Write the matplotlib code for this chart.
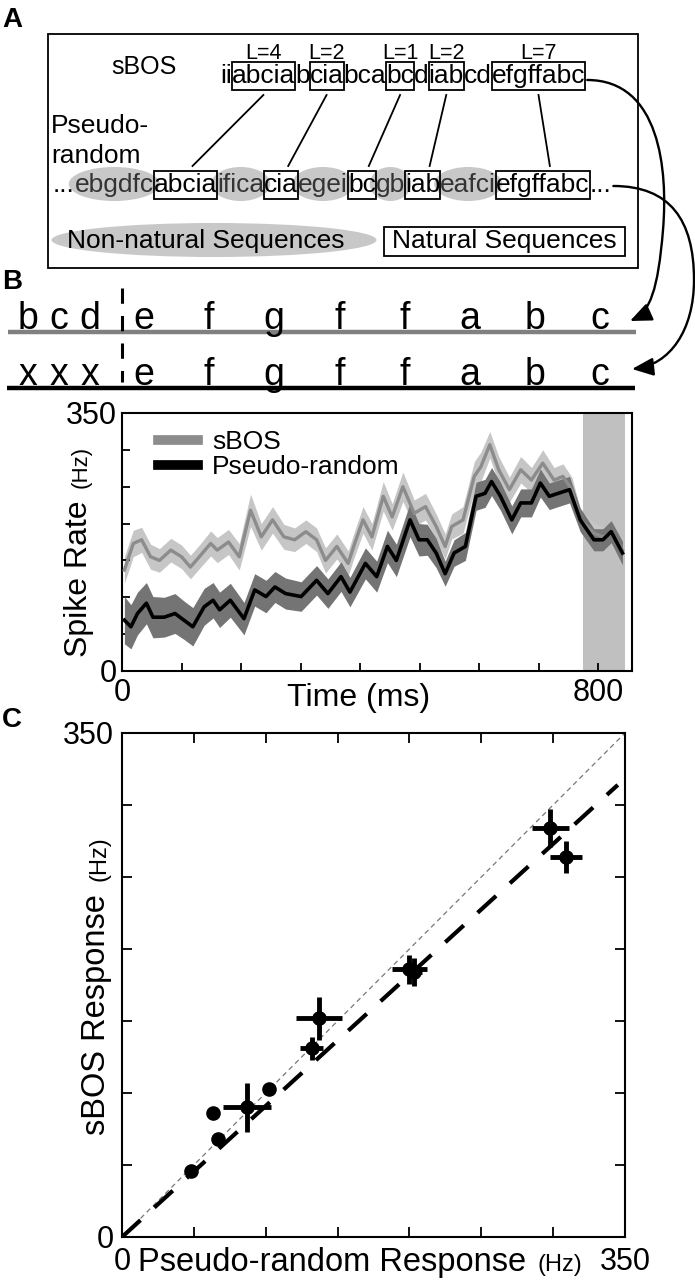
import matplotlib
matplotlib.use('Agg')
import matplotlib.pyplot as plt
import numpy as np
from matplotlib.patches import Rectangle, Ellipse, FancyArrowPatch
from matplotlib.path import Path

plt.rcParams['font.family'] = ['Liberation Sans', 'DejaVu Sans']

# ---------------- data ----------------
# panel A: song strings split in chunks (text, kind)
sbos_chunks = [('ii', None), ('abcia', 'box'), ('b', None), ('cia', 'box'), ('bca', None),
               ('bc', 'box'), ('d', None), ('iab', 'box'), ('cd', None), ('efgffabc', 'box')]
pr_chunks = [('...', None), ('ebgdfc', 'oval'), ('abcia', 'box'), ('ifica', 'oval'), ('cia', 'box'),
             ('egei', 'oval'), ('bc', 'box'), ('gb', 'oval'), ('iab', 'box'), ('eafci', 'oval'),
             ('efgffabc', 'box'), ('...', None)]
match_labels = ['L=4', 'L=2', 'L=1', 'L=2', 'L=7']

# panel B schematic
sbos_prefix = ['b', 'c', 'd']
pr_prefix = ['x', 'x', 'x']
shared_syll = ['e', 'f', 'g', 'f', 'f', 'a', 'b', 'c']

# panel B spike rate traces (ms, Hz)
t_sbos = [4, 19, 33, 48, 63, 82, 100, 115, 130, 149, 160, 179, 197, 216, 234, 253, 272, 290, 309, 327,
          342, 361, 380, 391, 405, 420, 439, 454, 472, 491, 510, 528, 543, 554, 573, 592, 603, 618, 633,
          651, 670, 688, 707, 726, 741, 756, 770, 793, 808, 822, 841]
sbos_rate = [137, 173, 178, 155, 150, 164, 155, 141, 155, 173, 164, 175, 155, 218, 182, 205, 182, 178,
             189, 178, 150, 169, 146, 173, 205, 182, 237, 209, 250, 214, 223, 196, 169, 196, 205, 264,
             277, 307, 273, 246, 273, 259, 282, 259, 264, 246, 205, 187, 182, 187, 164]
sbos_sem = [18, 18, 17, 17, 16, 16, 16, 16, 16, 17, 17, 17, 18, 22, 18, 18, 17, 16, 16, 16,
            17, 17, 17, 17, 18, 18, 20, 18, 20, 18, 18, 17, 17, 17, 18, 20, 20, 18, 18, 17,
            18, 17, 18, 17, 17, 17, 15, 14, 14, 14, 15]
t_pr = [4, 15, 26, 41, 52, 71, 89, 104, 119, 138, 153, 164, 182, 205, 223, 242, 257, 275, 301, 327,
        346, 368, 383, 409, 428, 446, 461, 484, 499, 513, 528, 543, 558, 577, 595, 610, 621, 636, 655,
        670, 688, 703, 718, 733, 752, 770, 793, 808, 822, 841]
pr_rate = [69, 60, 78, 92, 73, 73, 78, 69, 60, 87, 96, 83, 96, 71, 110, 101, 114, 105, 101, 123,
           105, 128, 107, 146, 128, 169, 150, 205, 178, 178, 160, 132, 160, 169, 237, 241, 257, 237,
           205, 228, 228, 255, 237, 241, 246, 205, 178, 178, 189, 160]
pr_sem = [32, 30, 29, 28, 28, 27, 27, 26, 26, 25, 24, 24, 23, 22, 22, 22, 21, 21, 20, 20,
          20, 20, 20, 21, 21, 22, 22, 23, 22, 21, 20, 17, 18, 19, 19, 19, 19, 19, 19, 19,
          19, 19, 18, 18, 18, 16, 15, 15, 15, 16]
shade_window = [775, 845]

# panel C: responses per neuron (Hz)
pr_resp = [48, 67, 63, 87, 102, 132, 137, 200, 203, 298, 309]
sbos_resp = [46, 68, 86, 90, 103, 131, 152, 186, 184, 284, 264]
pr_err = [2, 2, 3, 17, 4, 8, 16, 12, 6, 13, 11]
sbos_err = [2, 2, 2, 17, 4, 8, 15, 10, 10, 13, 11]
fit_slope = 0.91
fit_range = [0, 345]
lim = [0, 350]

# ---------------- figure ----------------
fig = plt.figure(figsize=(6.95, 12.8), dpi=100)
ov = fig.add_axes([0, 0, 1, 1], zorder=5)
ov.set_xlim(0, 695)
ov.set_ylim(1280, 0)
ov.axis('off')
ov.patch.set_visible(False)
rend = fig.canvas.get_renderer()


def draw_seq(chunks, x, base, size):
    spans = []
    for s, kind in chunks:
        col = '#333333' if kind == 'oval' else 'black'
        t = ov.text(x, base, s, fontsize=size, color=col, ha='left', va='baseline', zorder=3)
        w = t.get_window_extent(rend).width
        if kind == 'box':
            ov.add_patch(Rectangle((x, base - 21), w, 28, fill=False, lw=1.3, ec='black', zorder=4))
            spans.append(x + w / 2)
        elif kind == 'oval':
            ov.add_patch(Ellipse((x + w / 2, base - 8), w + 12, 34, fc='#c8c8c8', ec='none', zorder=1))
        x += w
    return spans, x


def label_run(parts, x, y, rot=0):
    for s, size, gap in parts:
        t = ov.text(x, y, s, fontsize=size, rotation=rot, rotation_mode='anchor',
                    ha='left', va='baseline')
        bb = t.get_window_extent(rend)
        if rot == 0:
            x += bb.width + gap
        else:
            y -= bb.height + gap


# panel letters
ov.text(2, 27, 'A', fontsize=20, fontweight='bold')
ov.text(2, 289, 'B', fontsize=20, fontweight='bold')
ov.text(2, 727, 'C', fontsize=20, fontweight='bold')

# ---- panel A ----
ov.add_patch(Rectangle((48, 34), 590, 234, fill=False, lw=1.3, ec='black'))
ov.text(111, 74, 'sBOS', fontsize=18, ha='left', va='baseline')
ov.text(51, 133, 'Pseudo-', fontsize=19, ha='left', va='baseline')
ov.text(51, 163, 'random', fontsize=19, ha='left', va='baseline')

top_centres, top_end = draw_seq(sbos_chunks, 220, 83, 19)
bot_centres, bot_end = draw_seq(pr_chunks, 53, 192, 19)
for lab, xa, xb in zip(match_labels, top_centres, bot_centres):
    ov.text(xa, 59, lab, fontsize=15.5, ha='center', va='baseline')
    ov.plot([xa, xb + 7], [95, 166], color='black', lw=1.3)

ov.add_patch(Ellipse((214, 240), 325, 34, fc='#c8c8c8', ec='none'))
ov.text(206, 241, 'Non-natural Sequences', fontsize=19, ha='center', va='center')
ov.add_patch(Rectangle((384, 227), 241, 29, fill=False, lw=1.3, ec='black'))
ov.text(504, 241, 'Natural Sequences', fontsize=19, ha='center', va='center')

# ---- panel B schematic ----
ov.plot([8, 636], [332, 332], color='#808080', lw=3.2, solid_capstyle='butt')
ov.plot([7, 635], [388, 388], color='black', lw=3.2, solid_capstyle='butt')
ov.plot([122, 122], [288, 382], color='black', lw=2.2, dashes=(5, 4))
for i, (a, b) in enumerate(zip(sbos_prefix, pr_prefix)):
    ov.text(28 + 31 * i, 329, a, fontsize=27, ha='center', va='baseline')
    ov.text(28 + 31 * i, 385, b, fontsize=27, ha='center', va='baseline')
for i, s in enumerate(shared_syll):
    ov.text(144 + 65.1 * i, 329, s, fontsize=27, ha='center', va='baseline')
    ov.text(144 + 65.1 * i, 385, s, fontsize=27, ha='center', va='baseline')

C4 = Path.CURVE4
p1 = Path([(top_end + 2, 80), (660, 80), (668, 170), (663, 230), (658, 290), (650, 312), (630, 321)],
          [Path.MOVETO, C4, C4, C4, C4, C4, C4])
p2 = Path([(bot_end + 2, 186), (670, 186), (694, 220), (694, 280), (694, 330), (670, 365), (632, 369)],
          [Path.MOVETO, C4, C4, C4, C4, C4, C4])
for p in (p1, p2):
    ov.add_patch(FancyArrowPatch(path=p, arrowstyle='-|>,head_length=13,head_width=5.5',
                                 mutation_scale=1, lw=1.7, color='black'))

# ---- panel B traces ----
axB = fig.add_axes([122 / 695, 1 - 671 / 1280, 510 / 695, 258 / 1280])
sb = np.array(sbos_rate)
sbe = np.array(sbos_sem)
pr = np.array(pr_rate)
pre = np.array(pr_sem)
axB.axvspan(shade_window[0], shade_window[1], color='#c0c0c0', lw=0, zorder=0)
axB.fill_between(t_sbos, sb - sbe, sb + sbe, color='#c6c6c6', lw=0, zorder=1)
axB.fill_between(t_pr, pr - pre, pr + pre, color='#747474', lw=0, zorder=2)
axB.plot(t_sbos, sb, color='#8c8c8c', lw=2.4, label='sBOS', zorder=3)
axB.plot(t_pr, pr, color='black', lw=2.6, label='Pseudo-random', zorder=4)
axB.set_xlim(0, 857)
axB.set_ylim(0, 350)
axB.set_xticks(np.arange(0, 801, 100))
axB.set_xticklabels(['0', '', '', '', '', '', '', '', '800'])
axB.set_yticks(np.arange(0, 351, 50))
axB.set_yticklabels(['0', '', '', '', '', '', '', '350'])
axB.tick_params(direction='in', length=6, width=1.3, labelsize=22)
axB.tick_params(axis='x', pad=5)
axB.tick_params(axis='y', pad=4)
for sp in axB.spines.values():
    sp.set_linewidth(1.5)
leg = axB.legend(loc='upper left', bbox_to_anchor=(0.045, 0.985), frameon=False, fontsize=19,
                 handlelength=1.5, handletextpad=0.55, labelspacing=0.05, borderpad=0)
for ln in leg.get_lines():
    ln.set_linewidth(7)
axB.set_xlabel('Time (ms)', fontsize=23)
axB.xaxis.set_label_coords(0.463, -0.045)
label_run([('Spike Rate', 23, 13), ('(Hz)', 16, 0)], 87, 657, rot=90)

# ---- panel C ----
axC = fig.add_axes([122 / 695, 1 - 1237 / 1280, 503 / 695, 504 / 1280])
axC.plot(lim, lim, color='#777777', lw=0.9, dashes=(4, 3), zorder=1)
fx = np.array(fit_range)
axC.plot(fx, fit_slope * fx, color='black', lw=3, dashes=(6, 4.5), zorder=2)
axC.errorbar(pr_resp, sbos_resp, xerr=pr_err, yerr=sbos_err, fmt='o', color='black', ms=9.5,
             elinewidth=3.5, capsize=0, zorder=3)
axC.set_xlim(lim)
axC.set_ylim(lim)
axC.set_xticks(np.arange(0, 351, 50))
axC.set_xticklabels(['0', '', '', '', '', '', '', '350'])
axC.set_yticks(np.arange(0, 351, 50))
axC.set_yticklabels(['0', '', '', '', '', '', '', '350'])
axC.tick_params(direction='in', length=7, width=1.3, labelsize=22, top=True, right=True)
axC.tick_params(axis='x', pad=7)
axC.tick_params(axis='y', pad=6)
for sp in axC.spines.values():
    sp.set_linewidth(1.5)
label_run([('Pseudo-random Response', 23.5, 11), ('(Hz)', 17, 0)], 138, 1271)
label_run([('sBOS Response', 23.5, 13), ('(Hz)', 17, 0)], 105, 1135, rot=90)

fig.savefig('out.png', dpi=100)
